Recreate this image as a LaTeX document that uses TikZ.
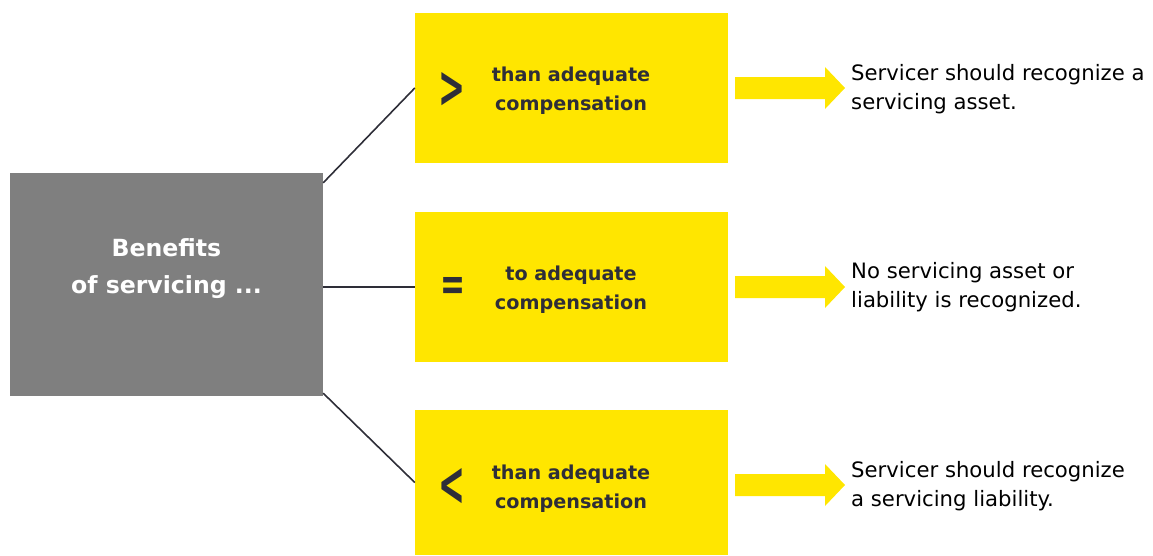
\documentclass[tikz,border=0pt]{standalone}
\usepackage{fontspec}
\usepackage{graphicx}
\setmainfont{DejaVu Sans}
\definecolor{eyyellow}{HTML}{FFE600}
\definecolor{eygray}{HTML}{7F7F7F}
\definecolor{eydark}{HTML}{2E2E38}
\begin{document}
\begin{tikzpicture}[x=1pt,y=-1pt,
  graybox/.style={fill=eygray, minimum width=313pt, minimum height=223pt, inner sep=0pt},
  bentext/.style={text=white, font=\fontsize{23.6}{37}\selectfont\bfseries, align=center, inner sep=0pt},
  ybox/.style={fill=eyyellow, minimum width=313pt, minimum height=150pt, inner sep=0pt},
  boxtext/.style={text=eydark, font=\fontsize{19.2}{28.5}\selectfont\bfseries, align=center, inner sep=0pt},
  sym/.style={text=eydark, font=\bfseries, inner sep=0pt},
  rtext/.style={text=black, font=\fontsize{21.2}{29}\selectfont, align=left, inner sep=0pt, anchor=west},
  conn/.style={draw=eydark, line width=1.6pt},
  bigarrow/.pic={\fill[eyyellow] (0,-11) -- (90,-11) -- (90,-21) -- (110,0) -- (90,21) -- (90,11) -- (0,11) -- cycle;}
]
\useasboundingbox (0,0) rectangle (1153,555);
\node[graybox] (ben) at (166.5,284.5) {};
\node[bentext] (bent) at (166.5,269) {Benefits\\of servicing ...};
\node[ybox] (b1) at (571.5,88) {};
\node[ybox] (b2) at (571.5,287) {};
\node[ybox, minimum height=145pt] (b3) at (571.5,482.5) {};
\node[boxtext] (t1) at (571,90.5) {than adequate\\compensation};
\node[boxtext] (t2) at (571,289.5) {to adequate\\compensation};
\node[boxtext] (t3) at (571,488.5) {than adequate\\compensation};
\node[sym] (s1) at (451.5,89.5) {\resizebox{27pt}{35pt}{>}};
\node[sym] (s2) at (452.5,288.5) {\resizebox{25pt}{23pt}{=}};
\node[sym] (s3) at (451.5,486.5) {\resizebox{27pt}{37pt}{<}};
\draw[conn] ([yshift=-10pt]ben.north east) -- (b1.west);
\draw[conn] (ben.east |- b2.west) -- (b2.west);
\draw[conn] ([yshift=3pt]ben.south east) -- (b3.west);
\pic at (735,88) {bigarrow};
\pic at (735,287) {bigarrow};
\pic at (735,485) {bigarrow};
\node[rtext] (r1) at (851,89.5) {Servicer should recognize a\\servicing asset.};
\node[rtext] (r2) at (851,287.5) {No servicing asset or\\liability is recognized.};
\node[rtext] (r3) at (851,486.5) {Servicer should recognize\\a servicing liability.};
\end{tikzpicture}
\end{document}
